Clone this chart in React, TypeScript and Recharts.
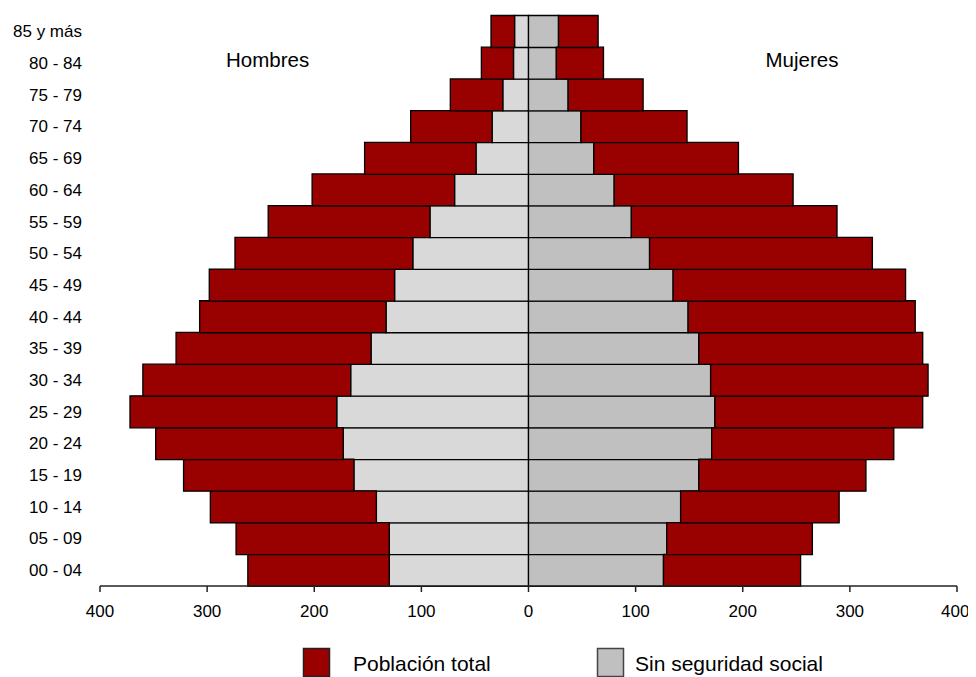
import React from 'react';
import { BarChart, Bar, XAxis, YAxis } from 'recharts';

const ageGroups = [
  '00 - 04', '05 - 09', '10 - 14', '15 - 19', '20 - 24', '25 - 29', '30 - 34',
  '35 - 39', '40 - 44', '45 - 49', '50 - 54', '55 - 59', '60 - 64', '65 - 69',
  '70 - 74', '75 - 79', '80 - 84', '85 y más',
];
// values (thousands), youngest group first
const menTotal = [262, 273, 297, 322, 348, 372, 360, 329, 307, 298, 274, 243, 202, 153, 110, 73, 44, 35];
const menSinSeguridad = [130, 130, 142, 163, 173, 179, 166, 147, 133, 125, 108, 92, 69, 49, 34, 24, 14, 13];
const womenTotal = [254, 265, 290, 315, 341, 368, 373, 368, 361, 352, 321, 288, 247, 196, 148, 107, 70, 65];
const womenSinSeguridad = [126, 129, 142, 159, 171, 174, 170, 159, 149, 135, 113, 96, 80, 61, 49, 37, 26, 28];
const xTicks = [-400, -300, -200, -100, 0, 100, 200, 300, 400];

const RED = '#990000';
const GRAY_MEN = '#d9d9d9';
const GRAY_WOMEN = '#c0c0c0';
const FONT = '"Liberation Sans", Arial, sans-serif';

// stacked with stackOffset="sign": gray from 0, red covers the rest up to the total
const data = ageGroups.map((age, i) => ({
  age,
  menGray: -menSinSeguridad[i],
  menRed: -(menTotal[i] - menSinSeguridad[i]),
  womenGray: womenSinSeguridad[i],
  womenRed: womenTotal[i] - womenSinSeguridad[i],
}));

const App = () => {
  return (
    <div style={{ position: 'relative', width: 960, height: 669, fontFamily: FONT }}>
      <BarChart
        width={960}
        height={669}
        data={data}
        layout="vertical"
        stackOffset="sign"
        barCategoryGap={0}
        margin={{ top: 7.5, right: 11, left: 0, bottom: 51 }}
      >
        <XAxis
          type="number"
          domain={[-400, 400]}
          ticks={xTicks}
          tickFormatter={(v: number) => String(Math.abs(v))}
          axisLine={{ stroke: '#222', strokeWidth: 1.5 }}
          tickLine={{ stroke: '#222', strokeWidth: 1.5 }}
          tickSize={6}
          tickMargin={13}
          height={40}
          tick={{ fill: '#000', fontSize: 17, fontFamily: FONT }}
        />
        <YAxis
          type="category"
          dataKey="age"
          reversed
          width={92}
          axisLine={false}
          tickLine={false}
          tickSize={6}
          tickMargin={12}
          interval={0}
          tick={{ fill: '#000', fontSize: 17, fontFamily: FONT }}
        />
        <Bar dataKey="menGray" stackId="a" fill={GRAY_MEN} stroke="#000" strokeWidth={1.3} isAnimationActive={false} />
        <Bar dataKey="menRed" stackId="a" fill={RED} stroke="#000" strokeWidth={1.3} isAnimationActive={false} />
        <Bar dataKey="womenGray" stackId="a" fill={GRAY_WOMEN} stroke="#000" strokeWidth={1.3} isAnimationActive={false} />
        <Bar dataKey="womenRed" stackId="a" fill={RED} stroke="#000" strokeWidth={1.3} isAnimationActive={false} />
      </BarChart>
      <svg
        width={960}
        height={669}
        style={{ position: 'absolute', left: 0, top: 0, pointerEvents: 'none' }}
      >
        <g fontFamily={FONT} fontSize={20.5} fill="#000">
          <text x={218} y={58.7}>Hombres</text>
          <text x={757.5} y={58.7}>Mujeres</text>
        </g>
        <rect x={295.5} y={640.5} width={26} height={28} fill={RED} stroke="#222" strokeWidth={1.5} />
        <text x={345} y={663} fontFamily={FONT} fontSize={21} fill="#000">Población total</text>
        <rect x={589.5} y={640.5} width={26} height={28} fill={GRAY_WOMEN} stroke="#444" strokeWidth={1.5} />
        <text x={627} y={663} fontFamily={FONT} fontSize={21} fill="#000">Sin seguridad social</text>
      </svg>
    </div>
  );
};

export default App;
